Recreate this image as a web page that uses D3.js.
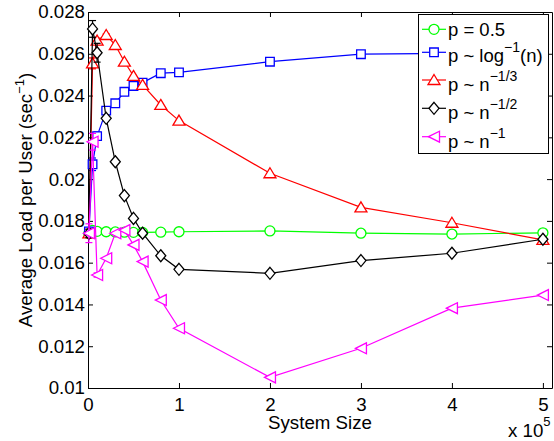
<!DOCTYPE html>
<html>
<head>
<meta charset="utf-8">
<script src="https://cdnjs.cloudflare.com/ajax/libs/d3/7.8.5/d3.min.js"></script>
<style>
  body { margin: 0; background: #fff; }
  svg text { font-family: "Liberation Sans", Arial, sans-serif; fill: #000; }
</style>
</head>
<body>
<svg width="554" height="441"></svg>
<script>
// system sizes (x) shared by all series
const sizes = [1e3, 5e3, 1e4, 2e4, 3e4, 4e4, 5e4, 6e4, 8e4, 1e5, 2e5, 3e5, 4e5, 5e5];

// average load per user, one array per policy
const loadHalf = [0.0174, 0.01755, 0.0175, 0.01748, 0.01747, 0.01746, 0.01745, 0.01745, 0.01746, 0.01748, 0.01752, 0.01741, 0.01737, 0.01743];
const loadLog  = [0.0175, 0.02071, 0.02206, 0.02328, 0.02363, 0.02418, 0.02446, 0.02462, 0.02507, 0.02511, 0.02562, 0.02598, 0.02602, 0.02608];
const loadCube = [0.0174, 0.02554, 0.02663, 0.02690, 0.02642, 0.02562, 0.02494, 0.02451, 0.02355, 0.02280, 0.02028, 0.01865, 0.01791, 0.01709];
const loadSqrt = [0.0174, 0.02719, 0.02605, 0.02291, 0.02083, 0.01921, 0.01812, 0.01741, 0.01633, 0.01568, 0.01549, 0.01610, 0.01645, 0.01712];
const loadInv  = [0.01741, 0.02179, 0.01541, 0.01621, 0.01741, 0.01756, 0.01685, 0.01605, 0.01421, 0.01286, 0.01051, 0.01190, 0.01382, 0.01445];

// error bar half-heights (only visible near the origin)
const errHalf = [0.0001, 0.00005, 0, 0, 0, 0, 0, 0, 0, 0, 0, 0, 0, 0];
const errLog  = [0.0001, 0.0003, 0.0002, 0, 0, 0, 0, 0, 0, 0, 0, 0, 0, 0];
const errCube = [0.0002, 0.00026, 0.00012, 0.00005, 0, 0, 0, 0, 0, 0, 0, 0, 0, 0];
const errSqrt = [0.0002, 0.0004, 0.00045, 0, 0, 0, 0, 0, 0, 0, 0, 0, 0, 0];
const errInv  = [0.00045, 0.0004, 0.0001, 0, 0, 0, 0, 0, 0, 0, 0, 0, 0, 0];

const xTicks = [0, 1e5, 2e5, 3e5, 4e5, 5e5];
const xTickLabels = ['0', '1', '2', '3', '4', '5'];
const yTicks = [0.01, 0.012, 0.014, 0.016, 0.018, 0.02, 0.022, 0.024, 0.026, 0.028];
const yTickLabels = ['0.01', '0.012', '0.014', '0.016', '0.018', '0.02', '0.022', '0.024', '0.026', '0.028'];

const legendLabels = [
    ['p = 0.5', '', ''],
    ['p ~ log', '\u22121', '(n)'],
    ['p ~ n', '\u22121/3', ''],
    ['p ~ n', '\u22121/2', ''],
    ['p ~ n', '\u22121', ''],
];

const series = [
    { values: loadHalf, err: errHalf, color: '#00ff00', marker: 'circle' },
    { values: loadLog, err: errLog, color: '#0000ff', marker: 'square' },
    { values: loadCube, err: errCube, color: '#ff0000', marker: 'triUp' },
    { values: loadSqrt, err: errSqrt, color: '#000000', marker: 'diamond' },
    { values: loadInv, err: errInv, color: '#ff00ff', marker: 'triLeft' },
];

const svg = d3.select('svg');
const margin = { top: 12, right: 2, bottom: 53, left: 88 };
const width = +svg.attr('width') - margin.left - margin.right;
const height = +svg.attr('height') - margin.top - margin.bottom;
const fontSize = 18.7;

const x = d3.scaleLinear().domain([0, 5.1e5]).range([0, width]);
const y = d3.scaleLinear().domain([0.01, 0.028]).range([height, 0]);

const markerPath = {
    circle: 'M5,0A5,5 0 1,1 -5,0A5,5 0 1,1 5,0Z',
    square: 'M-4.3,-4.3H4.3V4.3H-4.3Z',
    triUp: 'M0,-5.5L6,4.5L-6,4.5Z',
    diamond: 'M0,-6L5,0L0,6L-5,0Z',
    triLeft: 'M-5.5,0L5.5,-5.5L5.5,5.5Z',
};

const g = svg.append('g').attr('transform', `translate(${margin.left},${margin.top})`);

function styleAxis(sel) {
    sel.attr('font-size', fontSize).attr('font-family', null);
    sel.selectAll('path, line').attr('stroke', '#000');
}

g.append('g')
    .attr('transform', `translate(0,${height})`)
    .call(d3.axisBottom(x).tickValues(xTicks).tickFormat((d, i) => xTickLabels[i])
        .tickSizeInner(-5).tickSizeOuter(0).tickPadding(10))
    .call(styleAxis);

g.append('g')
    .call(d3.axisTop(x).tickValues(xTicks).tickFormat('').tickSizeInner(-5).tickSizeOuter(0))
    .call(styleAxis);

g.append('g')
    .call(d3.axisLeft(y).tickValues(yTicks).tickFormat((d, i) => yTickLabels[i])
        .tickSizeInner(-5).tickSizeOuter(0).tickPadding(3))
    .call(styleAxis);

g.append('g')
    .attr('transform', `translate(${width},0)`)
    .call(d3.axisRight(y).tickValues(yTicks).tickFormat('').tickSizeInner(-5).tickSizeOuter(0))
    .call(styleAxis);

// series: line, error bars, markers
const line = d3.line()
    .x((d, i) => x(sizes[i]))
    .y(d => y(d));

series.forEach((s) => {
    const sg = g.append('g');
    sg.append('path')
        .datum(s.values)
        .attr('fill', 'none')
        .attr('stroke', s.color)
        .attr('stroke-width', 1.2)
        .attr('d', line);

    const eb = sg.selectAll('.eb')
        .data(s.values.map((v, i) => ({ v, e: s.err[i], n: sizes[i] })).filter(d => d.e > 0))
        .enter().append('g')
        .attr('stroke', s.color)
        .attr('stroke-width', 1.2);
    eb.append('line')
        .attr('x1', d => x(d.n)).attr('x2', d => x(d.n))
        .attr('y1', d => y(d.v - d.e)).attr('y2', d => y(d.v + d.e));
    eb.append('line')
        .attr('x1', d => x(d.n) - 3.5).attr('x2', d => x(d.n) + 3.5)
        .attr('y1', d => y(d.v - d.e)).attr('y2', d => y(d.v - d.e));
    eb.append('line')
        .attr('x1', d => x(d.n) - 3.5).attr('x2', d => x(d.n) + 3.5)
        .attr('y1', d => y(d.v + d.e)).attr('y2', d => y(d.v + d.e));

    sg.selectAll('.mk')
        .data(s.values)
        .enter().append('path')
        .attr('transform', (d, i) => `translate(${x(sizes[i])},${y(d)})`)
        .attr('d', markerPath[s.marker])
        .attr('fill', '#fff')
        .attr('stroke', s.color)
        .attr('stroke-width', 1.3);
});

// axis titles
svg.append('text')
    .attr('x', margin.left + width / 2)
    .attr('y', 429)
    .attr('text-anchor', 'middle')
    .attr('font-size', fontSize)
    .text('System Size');

const exp = svg.append('text')
    .attr('x', 508)
    .attr('y', 437)
    .attr('font-size', fontSize);
exp.append('tspan').text('x 10');
exp.append('tspan').attr('font-size', 13).attr('dy', -11).text('5');

const yl = svg.append('text')
    .attr('transform', `translate(31.5,${margin.top + height / 2})rotate(-90)`)
    .attr('text-anchor', 'middle')
    .attr('font-size', fontSize);
yl.append('tspan').text('Average Load per User (sec');
yl.append('tspan').attr('font-size', 13).attr('dy', -8).text('\u22121');
yl.append('tspan').attr('dy', 8).text(')');

// legend
const legendRowY = [29.3, 52.3, 80, 108.3, 136.7];
const legendBaseY = [35.5, 62, 90.5, 119, 147.5];
const lg = svg.append('g');
lg.append('rect')
    .attr('x', 418.5).attr('y', 14.5)
    .attr('width', 130).attr('height', 139)
    .attr('fill', '#fff')
    .attr('stroke', '#000')
    .attr('stroke-width', 1);

series.forEach((s, i) => {
    const ry = legendRowY[i];
    lg.append('line')
        .attr('x1', 422).attr('x2', 446)
        .attr('y1', ry).attr('y2', ry)
        .attr('stroke', s.color).attr('stroke-width', 1.2);
    lg.append('path')
        .attr('transform', `translate(434,${ry})`)
        .attr('d', markerPath[s.marker])
        .attr('fill', '#fff')
        .attr('stroke', s.color)
        .attr('stroke-width', 1.3);
    const [base, sup, tail] = legendLabels[i];
    const t = lg.append('text')
        .attr('x', 448)
        .attr('y', legendBaseY[i])
        .attr('font-size', 18.5);
    t.append('tspan').text(base);
    if (sup) {
        t.append('tspan').attr('font-size', 14).attr('dy', -10).text(sup);
        if (tail) t.append('tspan').attr('dy', 10).text(tail);
    }
});
</script>
</body>
</html>
